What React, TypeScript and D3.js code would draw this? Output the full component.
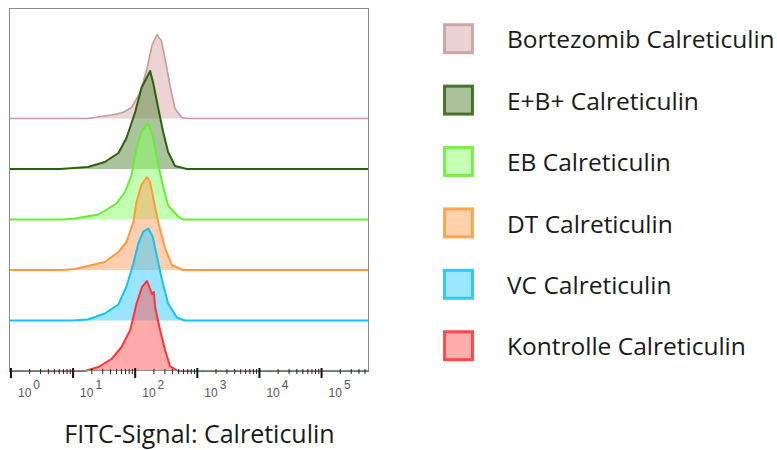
import React from "react";
import * as d3 from "d3";

const W = 777;
const H = 450;

const seriesNames = [
  "Bortezomib Calreticulin",
  "E+B+ Calreticulin",
  "EB Calreticulin",
  "DT Calreticulin",
  "VC Calreticulin",
  "Kontrolle Calreticulin",
];
const strokeColors = ["#c99a9a", "#2f6010", "#66ee33", "#ff9a3c", "#11c4f5", "#ff3333"];
const fillColors = ["#d9a9a9", "#5a8a3c", "#88ff66", "#ffa060", "#33ccff", "#ff5555"];
const legendFills = ["#ecd3d3", "#aac19b", "#c6ffb5", "#ffd2ae", "#9de6ff", "#ffacac"];

// log10 of FITC signal, histogram heights (normalized, % scale)
const bortezomibLog = [1.24, 1.45, 1.67, 1.8, 1.94, 2.08, 2.19, 2.27, 2.35, 2.38, 2.42, 2.48, 2.56, 2.64, 2.75, 2.85];
const bortezomibH = [0, 2, 4, 6, 11, 26, 50, 73, 84, 81, 78, 60, 33, 10, 1, 0];
const ebPlusLog = [0.79, 1.24, 1.51, 1.73, 1.86, 2.0, 2.1, 2.19, 2.24, 2.29, 2.37, 2.45, 2.53, 2.64, 2.83];
const ebPlusH = [0, 2, 7, 16, 31, 57, 81, 92, 98, 86, 61, 37, 17, 3, 0];
const ebLog = [0.84, 1.03, 1.41, 1.7, 1.84, 1.94, 2.02, 2.1, 2.21, 2.29, 2.35, 2.43, 2.53, 2.69, 2.77];
const ebH = [0, 1, 5, 16, 28, 44, 71, 88, 96, 81, 61, 38, 14, 3, 0];
const dtLog = [0.84, 1.03, 1.51, 1.73, 1.86, 1.97, 2.02, 2.1, 2.19, 2.24, 2.29, 2.37, 2.48, 2.59, 2.77];
const dtH = [0, 1, 8, 18, 28, 48, 68, 85, 93, 88, 72, 48, 22, 5, 0];
const vcLog = [1.0, 1.24, 1.51, 1.73, 1.86, 1.97, 2.05, 2.13, 2.21, 2.28, 2.35, 2.43, 2.53, 2.67, 2.8];
const vcH = [0, 1, 7, 16, 34, 57, 77, 89, 92, 84, 64, 41, 17, 3, 0];
const kontrolleLog = [1.19, 1.41, 1.62, 1.78, 1.92, 2.02, 2.11, 2.19, 2.27, 2.3, 2.32, 2.4, 2.48, 2.56, 2.69];
const kontrolleH = [0, 4, 12, 24, 41, 67, 84, 90, 77, 79, 64, 41, 21, 5, 0];

const seriesLogs = [bortezomibLog, ebPlusLog, ebLog, dtLog, vcLog, kontrolleLog];
const seriesHeights = [bortezomibH, ebPlusH, ebH, dtH, vcH, kontrolleH];

const majorExponents = [0, 1, 2, 3, 4, 5];
const axisTitle = "FITC-Signal: Calreticulin";

export default function App() {
  const frame = { left: 9, right: 369, top: 8, bottom: 370 };
  const x = d3.scaleLog().domain([0.93, 5.8e5]).range([frame.left, frame.right]);
  const firstBase = 118.5;
  const bandStep = 50.5;
  const yH = d3.scaleLinear().domain([0, 100]).range([0, 100]);

  const minorTicks: number[] = [];
  for (let e = 0; e <= 5; e++) {
    for (let m = 2; m <= 9; m++) {
      const v = m * Math.pow(10, e);
      if (v <= 5.8e5) minorTicks.push(v);
    }
  }

  const order = seriesNames.map((_, i) => i);

  return (
    <svg
      width={W}
      height={H}
      style={{ position: "absolute", left: 0, top: 0, background: "#fff" }}
      fontFamily="'Open Sans', sans-serif"
    >
      <rect x={0} y={0} width={W} height={H} fill="#fff" />
      {order.map((i) => {
        const base = firstBase + i * bandStep;
        const pts: [number, number][] = [[Math.log10(0.93), 0]];
        seriesLogs[i].forEach((lv, k) => pts.push([lv, seriesHeights[i][k]]));
        pts.push([Math.log10(5.8e5), 0]);
        const area = d3
          .area<[number, number]>()
          .x((d) => x(Math.pow(10, d[0])))
          .y0(base)
          .y1((d) => base - yH(d[1]));
        const line = d3
          .line<[number, number]>()
          .x((d) => x(Math.pow(10, d[0])))
          .y((d) => base - yH(d[1]));
        return (
          <g key={i}>
            <path d={area(pts) || ""} fill={fillColors[i]} fillOpacity={0.5} />
            <path
              d={line(pts) || ""}
              fill="none"
              stroke={strokeColors[i]}
              strokeWidth={i === 0 ? 1.6 : 2}
              strokeLinejoin="round"
            />
          </g>
        );
      })}
      <rect
        x={frame.left + 0.5}
        y={frame.top + 0.5}
        width={frame.right - frame.left - 1}
        height={frame.bottom - frame.top}
        fill="none"
        stroke="#8a8a8a"
        strokeWidth={1}
      />
      {minorTicks.map((v, k) => (
        <line key={"m" + k} x1={x(v)} x2={x(v)} y1={369} y2={374} stroke="#222" strokeWidth={1} />
      ))}
      {majorExponents.map((e) => (
        <line
          key={"M" + e}
          x1={x(Math.pow(10, e))}
          x2={x(Math.pow(10, e))}
          y1={368}
          y2={378}
          stroke="#111"
          strokeWidth={2}
        />
      ))}
      {majorExponents.map((e) => (
        <text
          key={"L" + e}
          x={x(Math.pow(10, e)) + 7}
          y={397}
          fontFamily="'Liberation Sans', Arial, sans-serif"
          fontSize={12}
          fill="#555"
        >
          10
          <tspan dx={2} dy={-8} fontSize={12}>
            {e}
          </tspan>
        </text>
      ))}
      <text x={199.5} y={443} textAnchor="middle" fontSize={25} fill="#1a1a1a">
        {axisTitle}
      </text>
      {seriesNames.map((name, i) => {
        const cy = 38.7 + i * 61.4;
        return (
          <g key={"lg" + i}>
            <rect
              x={444.5}
              y={cy - 14}
              width={28}
              height={28}
              fill={legendFills[i]}
              stroke={strokeColors[i]}
              strokeWidth={3}
              strokeOpacity={0.85}
            />
            <text x={507} y={cy + 9.6} fontSize={24.5} fill="#1a1a1a">
              {name}
            </text>
          </g>
        );
      })}
    </svg>
  );
}
